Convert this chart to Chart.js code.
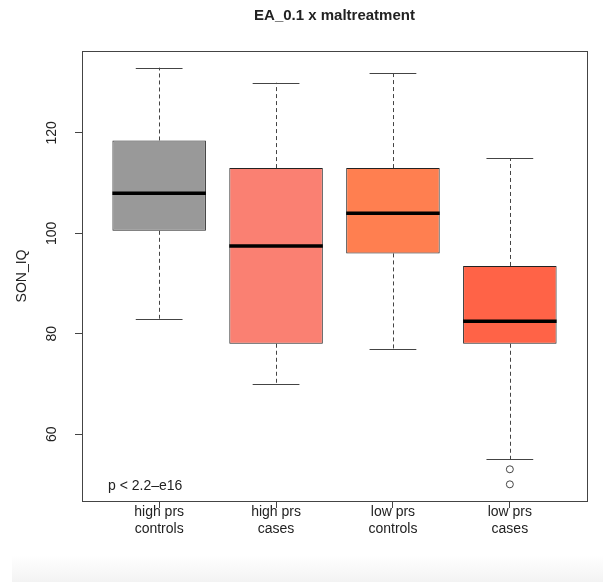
<!DOCTYPE html>
<html>
<head>
<meta charset="utf-8">
<script src="https://cdn.jsdelivr.net/npm/chart.js@4.4.1/dist/chart.umd.min.js"></script>
<style>
  html, body { margin: 0; padding: 0; background: #fff; }
  #wrap { position: relative; width: 603px; height: 582px; }
  #shade { position: absolute; left: 12px; top: 555px; width: 591px; height: 27px;
           background: linear-gradient(to bottom, #ffffff, #f3f3f3); }
  #chart { position: absolute; left: 0; top: 0; }
</style>
</head>
<body>
<div id="wrap">
  <div id="shade"></div>
  <canvas id="chart" width="603" height="582"></canvas>
</div>
<script>
// ===== data =====
const groupLabels = [['high prs', 'controls'], ['high prs', 'cases'], ['low prs', 'controls'], ['low prs', 'cases']];
const groupPos    = [1, 2, 3, 4];
const whiskerLow  = [83, 70, 77, 55];
const q1          = [100.5, 78, 96, 78];
const medians     = [108, 97.5, 104, 82.5];
const q3          = [118.5, 113, 113, 93.5];
const whiskerHigh = [133, 130, 132, 115];
const outliers    = [[], [], [], [53, 50]];
const boxColors   = ['#999999', '#FA8072', '#FF7F50', '#FF6347'];
const yTicks      = [60, 80, 100, 120];

const TITLE  = 'EA_0.1 x maltreatment';
const YTITLE = 'SON_IQ';
const PTEXT  = 'p < 2.2\u2013e16';

// ===== style =====
const FONT  = '"Liberation Sans", Arial, Helvetica, sans-serif';
const INK   = '#222';
const LINE  = '#444';
const BOX_W = 0.8;   // box width in x units (R default)
const CAP_W = 0.4;   // staple width

// R-style extension of the data range by 4%
const allY = [...whiskerLow, ...whiskerHigh, ...outliers.flat()];
const yLo = Math.min(...allY), yHi = Math.max(...allY);
const yPad = (yHi - yLo) * 0.04;
const xPad = (groupPos.length) * 0.04;

// ===== plugin: whiskers, medians, frame, texts =====
const boxExtras = {
  id: 'boxExtras',
  afterDatasetsDraw(chart) {
    const { ctx, chartArea: a, scales: { x, y } } = chart;
    ctx.save();
    groupPos.forEach((p, i) => {
      const cx = x.getPixelForValue(p);
      const hb = x.getPixelForValue(p + BOX_W / 2) - cx;
      const hc = x.getPixelForValue(p + CAP_W / 2) - cx;
      const wx = Math.round(cx) + 0.5;

      // dashed whiskers
      ctx.strokeStyle = LINE;
      ctx.lineWidth = 1;
      ctx.setLineDash([4, 3]);
      ctx.beginPath();
      ctx.moveTo(wx, y.getPixelForValue(q3[i]));
      ctx.lineTo(wx, y.getPixelForValue(whiskerHigh[i]));
      ctx.moveTo(wx, y.getPixelForValue(q1[i]));
      ctx.lineTo(wx, y.getPixelForValue(whiskerLow[i]));
      ctx.stroke();

      // staples
      ctx.setLineDash([]);
      ctx.beginPath();
      [whiskerHigh[i], whiskerLow[i]].forEach(v => {
        const py = Math.round(y.getPixelForValue(v)) + 0.5;
        ctx.moveTo(cx - hc, py);
        ctx.lineTo(cx + hc, py);
      });
      ctx.stroke();

      // median
      ctx.strokeStyle = '#000';
      ctx.lineWidth = 3.5;
      ctx.beginPath();
      const my = y.getPixelForValue(medians[i]);
      ctx.moveTo(cx - hb, my);
      ctx.lineTo(cx + hb, my);
      ctx.stroke();
    });

    // frame
    ctx.strokeStyle = LINE;
    ctx.lineWidth = 1;
    ctx.strokeRect(Math.round(a.left) + 0.5, Math.round(a.top) + 0.5,
                   Math.round(a.right - a.left), Math.round(a.bottom - a.top));

    // title
    ctx.fillStyle = INK;
    ctx.textAlign = 'center';
    ctx.textBaseline = 'middle';
    ctx.font = 'bold 15px ' + FONT;
    ctx.fillText(TITLE, (a.left + a.right) / 2, 16);

    // y tick labels, rotated like R
    ctx.font = '14px ' + FONT;
    y.ticks.forEach(t => {
      ctx.save();
      ctx.translate(52, y.getPixelForValue(t.value));
      ctx.rotate(-Math.PI / 2);
      ctx.fillText(String(t.value), 0, 0);
      ctx.restore();
    });

    // y title
    ctx.save();
    ctx.translate(22, (a.top + a.bottom) / 2);
    ctx.rotate(-Math.PI / 2);
    ctx.fillText(YTITLE, 0, 0);
    ctx.restore();

    // p-value note
    ctx.textAlign = 'left';
    ctx.fillText(PTEXT, 108, 486);
    ctx.restore();
  }
};

const outlierPts = [];
outliers.forEach((arr, i) => arr.forEach(v => outlierPts.push({ x: groupPos[i], y: v })));

new Chart(document.getElementById('chart'), {
  type: 'bar',
  data: {
    datasets: [
      {
        type: 'bar',
        data: groupPos.map((p, i) => ({ x: p, y: [q1[i], q3[i]] })),
        backgroundColor: boxColors,
        borderColor: '#222',
        borderWidth: 1,
        borderSkipped: false,
        categoryPercentage: BOX_W,
        barPercentage: 1
      },
      {
        type: 'scatter',
        data: outlierPts,
        pointRadius: 3.5,
        pointBorderWidth: 1,
        borderColor: LINE,
        backgroundColor: 'rgba(0,0,0,0)'
      }
    ]
  },
  options: {
    responsive: false,
    animation: false,
    layout: { padding: { left: 0, top: 51, right: 16, bottom: 0 } },
    plugins: { legend: { display: false }, title: { display: false }, tooltip: { enabled: false } },
    scales: {
      x: {
        type: 'linear',
        offset: false,
        min: 1 - 0.5 - xPad,
        max: groupPos.length + 0.5 + xPad,
        afterBuildTicks: s => { s.ticks = groupPos.map(v => ({ value: v })); },
        afterFit: s => { s.height = 81; },
        grid: { offset: false, drawOnChartArea: false, drawTicks: true, tickLength: 7, tickColor: LINE },
        border: { display: false },
        ticks: {
          autoSkip: false, maxRotation: 0, padding: -4, color: INK,
          font: { size: 14, family: FONT, lineHeight: 1.2 },
          callback: (v, i) => groupLabels[i]
        }
      },
      y: {
        min: yLo - yPad,
        max: yHi + yPad,
        afterBuildTicks: s => { s.ticks = yTicks.map(v => ({ value: v })); },
        afterFit: s => { s.width = 82; },
        grid: { drawOnChartArea: false, drawTicks: true, tickLength: 7, tickColor: LINE },
        border: { display: false },
        ticks: { display: false }
      }
    }
  },
  plugins: [boxExtras]
});
</script>
</body>
</html>
